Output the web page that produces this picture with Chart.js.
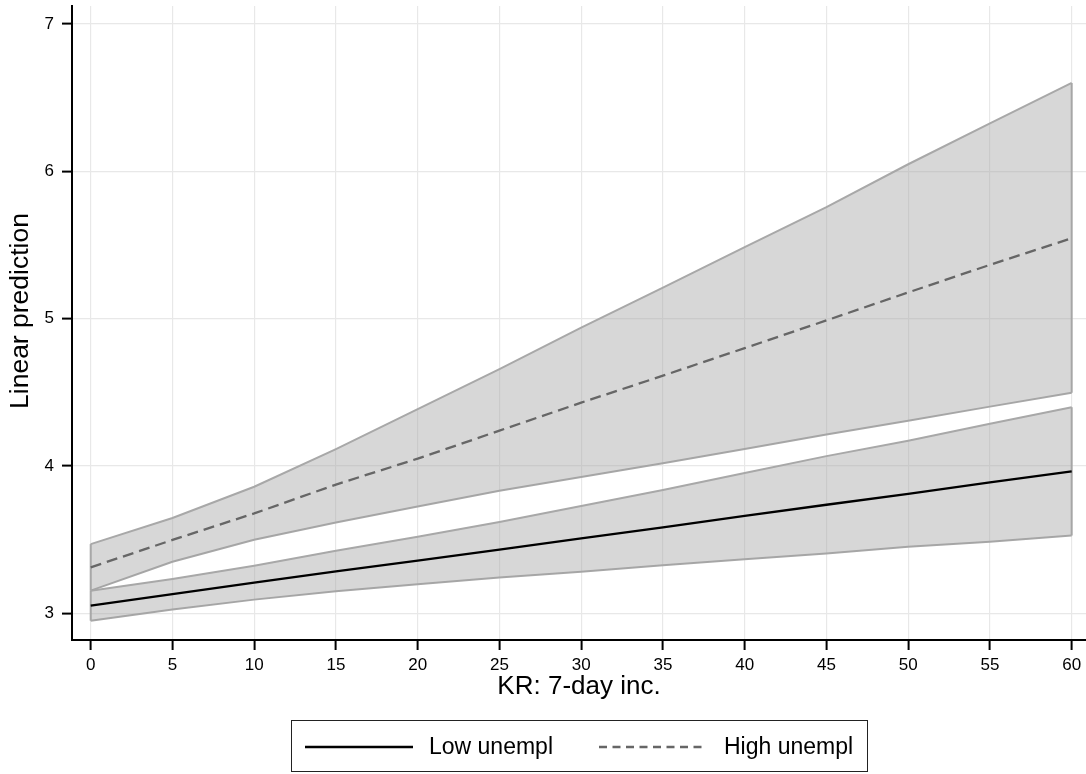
<!DOCTYPE html>
<html>
<head>
<meta charset="utf-8">
<script src="https://cdn.jsdelivr.net/npm/chart.js@4/dist/chart.umd.min.js"></script>
<style>
  body { margin: 0; background: #fff; font-family: "Liberation Sans", Arial, sans-serif; }
  #wrap { position: relative; width: 1086px; height: 774px; }
  #legend {
    position: absolute; left: 291px; top: 720px; width: 575px; height: 50px;
    border: 1.5px solid #222; box-sizing: content-box;
  }
  #legend svg { position: absolute; top: 0; left: 0; }
  #legend span { position: absolute; top: 12px; font-size: 23px; color: #000; line-height: 27px; }
</style>
</head>
<body>
<div id="wrap">
  <canvas id="marginsChart" width="1086" height="774"></canvas>
  <div id="legend">
    <svg width="575" height="50">
      <line x1="13" y1="26" x2="121" y2="26" stroke="#000" stroke-width="2.3"></line>
      <line x1="307" y1="26" x2="415" y2="26" stroke="#666" stroke-width="2.3" stroke-dasharray="8 5.5"></line>
    </svg>
    <span style="left:137px">Low unempl</span>
    <span style="left:432px">High unempl</span>
  </div>
</div>
<script>
// x values (KR: 7-day incidence)
var xVals = [0, 5, 10, 15, 20, 25, 30, 35, 40, 45, 50, 55, 60];

// Low unemployment: prediction and 95% CI
var lowMean  = [3.052, 3.130, 3.208, 3.285, 3.358, 3.433, 3.508, 3.584, 3.662, 3.737, 3.811, 3.889, 3.963];
var lowUpper = [3.154, 3.233, 3.323, 3.425, 3.520, 3.620, 3.729, 3.837, 3.953, 4.067, 4.171, 4.287, 4.399];
var lowLower = [2.950, 3.026, 3.093, 3.150, 3.197, 3.243, 3.282, 3.327, 3.367, 3.406, 3.452, 3.486, 3.528];

// High unemployment: prediction and 95% CI
var highMean  = [3.312, 3.498, 3.678, 3.874, 4.050, 4.240, 4.430, 4.613, 4.800, 4.988, 5.178, 5.365, 5.546];
var highUpper = [3.470, 3.647, 3.859, 4.115, 4.386, 4.657, 4.939, 5.210, 5.486, 5.757, 6.048, 6.325, 6.600];
var highLower = [3.154, 3.350, 3.500, 3.617, 3.725, 3.832, 3.925, 4.019, 4.115, 4.214, 4.307, 4.403, 4.497];

var xTicks = [0, 5, 10, 15, 20, 25, 30, 35, 40, 45, 50, 55, 60];
var yTicks = [3, 4, 5, 6, 7];
var yTitle = 'Linear prediction';

function pts(ys) {
    return xVals.map(function(x, i) { return { x: x, y: ys[i] }; });
}

// vertical closing edge of a band at index i
function edge(lo, hi, i) {
    return [{ x: xVals[i], y: lo[i] }, { x: xVals[i], y: hi[i] }];
}

var bandFill = 'rgba(160, 160, 160, 0.42)';
var bandLine = '#a8a8a8';
var last = xVals.length - 1;
var font = '"Liberation Sans", Arial, sans-serif';

function bandDs(data, fillTarget, order) {
    return {
        data: data,
        borderColor: bandLine,
        borderWidth: 2,
        backgroundColor: bandFill,
        fill: fillTarget,
        pointRadius: 0,
        tension: 0,
        order: order
    };
}

var datasets = [
    { label: 'Low unempl', data: pts(lowMean), borderColor: '#000', borderWidth: 2.3, pointRadius: 0, fill: false, order: 0 },
    { label: 'High unempl', data: pts(highMean), borderColor: '#666', borderWidth: 2.3, borderDash: [11, 6], pointRadius: 0, fill: false, order: 1 },
    bandDs(pts(highUpper), { target: 3 }, 2),
    bandDs(pts(highLower), false, 3),
    bandDs(pts(lowUpper), { target: 5 }, 4),
    bandDs(pts(lowLower), false, 5),
    bandDs(edge(highLower, highUpper, 0), false, 6),
    bandDs(edge(highLower, highUpper, last), false, 6),
    bandDs(edge(lowLower, lowUpper, 0), false, 6),
    bandDs(edge(lowLower, lowUpper, last), false, 6)
];

// y axis title, drawn a bit above the axis middle like the original
var yTitlePlugin = {
    id: 'yTitle',
    afterDraw: function(chart) {
        var c = chart.ctx;
        c.save();
        c.translate(21, 311);
        c.rotate(-Math.PI / 2);
        c.font = '26.5px ' + font;
        c.fillStyle = '#000';
        c.textAlign = 'center';
        c.textBaseline = 'middle';
        c.fillText(yTitle, 0, 0);
        c.restore();
    }
};

var ctx = document.getElementById('marginsChart').getContext('2d');

new Chart(ctx, {
    type: 'line',
    data: { datasets: datasets },
    plugins: [yTitlePlugin],
    options: {
        responsive: false,
        animation: false,
        layout: { padding: { top: 6, right: 0, bottom: 69, left: 0 } },
        plugins: {
            legend: { display: false },
            tooltip: { enabled: false }
        },
        scales: {
            x: {
                type: 'linear',
                min: -1.144,
                max: 60.875,
                afterBuildTicks: function(scale) {
                    scale.ticks = xTicks.map(function(v) { return { value: v }; });
                },
                afterFit: function(scale) {
                    scale.height = 65;
                    scale.paddingLeft = 0;
                    scale.paddingRight = 0;
                },
                grid: { color: '#e8e8e8', lineWidth: 1.2, tickColor: '#000', tickWidth: 2, tickLength: 10 },
                border: { color: '#000', width: 2 },
                ticks: {
                    color: '#000', padding: 5, maxRotation: 0, autoSkip: false,
                    font: { family: font, size: 17 }
                },
                title: {
                    display: true, text: 'KR: 7-day inc.', color: '#000',
                    padding: { top: 0, bottom: 3 },
                    font: { family: font, size: 26 }
                }
            },
            y: {
                type: 'linear',
                min: 2.819,
                max: 7.122,
                afterBuildTicks: function(scale) {
                    scale.ticks = yTicks.map(function(v) { return { value: v }; });
                },
                afterFit: function(scale) {
                    scale.width = 72;
                    scale.paddingTop = 0;
                    scale.paddingBottom = 0;
                },
                grid: { color: '#e8e8e8', lineWidth: 1.2, tickColor: '#000', tickWidth: 2, tickLength: 10 },
                border: { color: '#000', width: 2 },
                ticks: {
                    color: '#000', padding: 8,
                    font: { family: font, size: 17 }
                },
                title: { display: false }
            }
        }
    }
});
</script>
</body>
</html>
